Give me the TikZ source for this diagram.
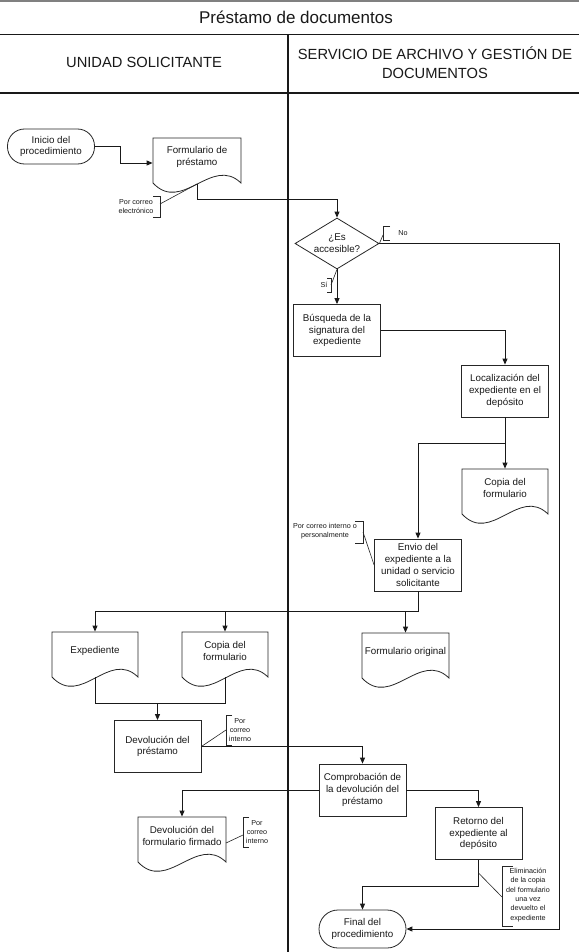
\documentclass[tikz,border=0pt]{standalone}
\usepackage{fontspec}
\setmainfont{Liberation Sans}
\usetikzlibrary{arrows.meta,shapes.geometric}
\tikzset{
 ln/.style={line width=0.9pt, draw=black!90},
 arr/.style={ln, -{Triangle[length=6pt,width=5pt]}},
 proc/.style={draw=black!85, line width=0.8pt, minimum width=87pt, minimum height=52pt, inner sep=1pt, align=center, font=\fontsize{9.8}{11.7}\selectfont, text=black!90},
 term/.style={proc, rounded corners=17pt, minimum height=35pt},
 dec/.style={proc, shape=diamond, minimum width=84pt, minimum height=51pt, inner sep=0pt, aspect=1.65},
 doc/.style={proc, draw=none, minimum width=88pt, minimum height=38pt},
 note/.style={align=center, inner sep=0pt, font=\fontsize{7.2}{8.6}\selectfont, text=black!90},
 nl/.style={line width=0.6pt, draw=black!85},
 hdr/.style={font=\fontsize{14.7}{19}\selectfont, align=center, text=black!90},
}
\newcommand\docout[2]{%
 \draw[draw=black!85, line width=0.8pt] ([shift={(-#2,26)}]#1.center) -- ([shift={(-#2,-19)}]#1.center) -- ([shift={(#2,-19)}]#1.center) -- ([shift={(#2,26)}]#1.center) .. controls +(-29,-28) and +(29,31) .. ([shift={(-#2,26)}]#1.center) -- cycle;}
\begin{document}
\begin{tikzpicture}[x=1pt,y=-1pt]
\useasboundingbox[fill=white] (0,0) rectangle (579,952);
% lanes
\draw[gray, line width=1.2pt] (0,1) -- (579,1);
\draw[black!90, line width=1.6pt] (0,34.5) -- (579,34.5);
\draw[black!90, line width=1.2pt] (0,93) -- (579,93);
\draw[black!90, line width=1.6pt] (288,34.5) -- (288,952);
\node[font=\fontsize{17}{20}\selectfont, text=black!90] (title) at (296,17) {Préstamo de documentos};
\node[hdr] (h1) at (144,62) {UNIDAD SOLICITANTE};
\node[hdr] (h2) at (435,62.5) {SERVICIO DE ARCHIVO Y GESTIÓN DE\\DOCUMENTOS};
% nodes
\node[term] (inicio) at (51,146.5) {Inicio del\\procedimiento};
\node[doc] (form) at (197,157) {Formulario de\\préstamo};
\node[dec] (acc) at (337,243.5) {¿Es\\accesible?};
\node[proc] (busq) at (337,330.5) {Búsqueda de la\\signatura del\\expediente};
\node[proc] (loc) at (505,391) {Localización del\\expediente en el\\depósito};
\node[doc] (copiaR) at (505,488) {Copia del\\formulario};
\node[proc] (envio) at (418,565) {Envio del\\expediente a la\\unidad o servicio\\solicitante};
\node[doc] (exped) at (95,651) {Expediente};
\node[doc] (copiaL) at (225,651) {Copia del\\formulario};
\node[doc] (forig) at (405.5,652) {Formulario original};
\node[proc] (devol) at (157.5,746.5) {Devolución del\\préstamo};
\node[proc] (compr) at (362.5,790) {Comprobación de\\la devolución del\\préstamo};
\node[doc] (firm) at (182,836) {Devolución del\\formulario firmado};
\node[proc] (ret) at (478.5,833.5) {Retorno del\\expediente al\\depósito};
\node[term, minimum height=38pt, rounded corners=19pt] (fin) at (362.5,929) {Final del\\procedimiento};
\docout{form}{44}
\docout{copiaR}{43}
\docout{exped}{43}
\docout{copiaL}{43}
\docout{forig}{43.5}
\docout{firm}{44}
% connectors
\draw[arr] (inicio.east) -- ++(26,0) |- ([shift={(0,6)}]form.west);
\draw[arr] ([shift={(0,27)}]form.center) -- ++(0,15.5) -| (acc.north);
\draw[arr] (acc.south) -- (busq.north);
\coordinate (noc) at (559,243.5);
\draw[arr] (acc.east) -- (noc) |- (fin.east);
\draw[arr] (busq.east) -| (loc.north);
\draw[arr] (loc.south) -- (copiaR.north);
\coordinate (b1) at (505,443);
\draw[arr] (b1) -| (envio.north);
\coordinate (b2) at (418,611.5);
\draw[arr] (envio.south) -- (b2) -| (exped.north);
\draw[arr] (copiaL.north |- b2) -- (copiaL.north);
\draw[arr] (forig.north |- b2) -- (forig.north);
\draw[ln] ([shift={(0,26)}]exped.center) -- ++(0,26) -| ([shift={(0,26)}]copiaL.center);
\coordinate (b3) at (157.5,703);
\draw[arr] (b3) -- (devol.north);
\draw[arr] (devol.east) -| (compr.north);
\draw[arr] (compr.west) -| (firm.north);
\draw[arr] (compr.east) -| (ret.north);
\draw[arr] (ret.south) -- ++(0,27) -| (fin.north);
% annotations
\node[note] (n1) at (136,206.5) {Por correo\\electrónico};
\draw[nl] (153,196) -- (160,196) -- (160,217) -- (153,217);
\coordinate (a1) at (160,204);
\draw[nl] (a1) -- ([shift={(0,27)}]form.center);
\node[note] (nNo) at (403,233) {No};
\draw[nl] (390,226) -- (383,226) -- (383,240) -- (390,240);
\coordinate (a2) at (383,235);
\draw[nl] (acc.east) -- (a2);
\node[note] (nSi) at (324,284.5) {Sí};
\draw[nl] (327,278) -- (331,278) -- (331,292) -- (327,292);
\coordinate (a3) at (331,285);
\draw[nl] (a3) -- (acc.south);
\node[note] (n2) at (325,531) {Por correo interno o\\personalmente};
\draw[nl] (355,521) -- (363,521) -- (363,543) -- (355,543);
\coordinate (a4) at (363,532);
\draw[nl] (a4) -- (envio.west);
\node[note] (n3) at (240,730) {Por\\correo\\interno};
\draw[nl] (232,715) -- (226,715) -- (226,745) -- (232,745);
\coordinate (a5) at (226,730);
\draw[nl] (a5) -- (devol.east);
\node[note] (n4) at (257,832) {Por\\correo\\interno};
\draw[nl] (249,817) -- (243,817) -- (243,847) -- (249,847);
\coordinate (a6) at (243,835);
\draw[nl] (a6) -- ([shift={(44,7)}]firm.center);
\node[note, font=\fontsize{7.2}{9.3}\selectfont] (n5) at (528,895) {Eliminación\\de la copia\\del formulario\\una vez\\devuelto el\\expediente};
\draw[nl] (513,866) -- (502,866) -- (502,926) -- (513,926);
\coordinate (a7) at (502,897);
\coordinate (a8) at (478.5,873);
\draw[nl] (a8) -- (a7);
\end{tikzpicture}
\end{document}
